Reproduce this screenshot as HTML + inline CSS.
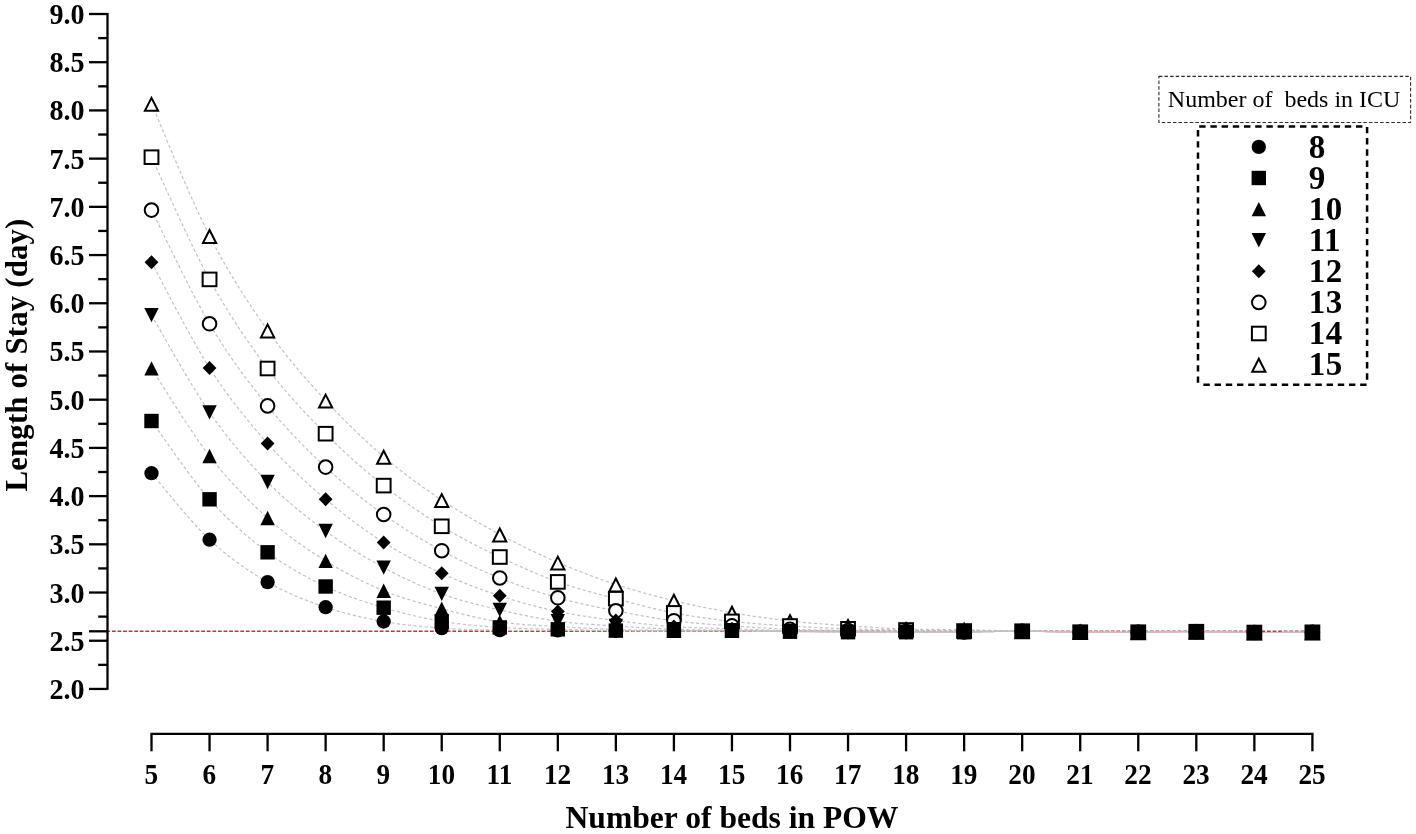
<!DOCTYPE html>
<html><head><meta charset="utf-8"><style>
html,body{margin:0;padding:0;background:#fff;width:1416px;height:834px;overflow:hidden}
svg{display:block;will-change:transform}
text{font-family:"Liberation Serif",serif}
.b{font-weight:bold}
.o{fill:#fff;stroke:#000;stroke-width:2.0}
</style></head><body>
<svg width="1416" height="834" viewBox="0 0 1416 834">
<rect width="1416" height="834" fill="#fff"/>

<line x1="106.4" y1="631.25" x2="1312.5" y2="631.25" stroke="#dd2a2a" stroke-width="1.6" stroke-dasharray="3.7 1.88"/>
<g fill="none" stroke="#c2c2c2" stroke-width="1.2" stroke-dasharray="3.2 2.4">
<path d="M151.5 473.2C161.17 484.28 190.2 521.55 209.55 539.7C228.89 557.85 248.24 570.85 267.59 582.1C286.94 593.35 306.29 600.63 325.63 607.2C344.98 613.77 364.33 618.02 383.68 621.5C403.03 624.98 422.38 626.67 441.73 628.1C461.07 629.53 480.42 629.72 499.77 630.1C519.12 630.48 538.47 630.28 557.82 630.4C577.16 630.52 596.51 630.72 615.86 630.8C635.21 630.88 654.56 630.9 673.9 630.9C693.25 630.9 712.6 630.7 731.95 630.8C751.3 630.9 770.65 631.3 790 631.5C809.34 631.7 828.69 631.92 848.04 632C867.39 632.08 886.74 632 906.09 632C925.43 632 944.78 632.13 964.13 632C983.48 631.87 1002.83 631.17 1022.18 631.2C1041.52 631.23 1060.87 632.03 1080.22 632.2C1099.57 632.37 1118.92 632.28 1138.26 632.2C1157.61 632.12 1176.96 631.65 1196.31 631.7C1215.66 631.75 1235.01 632.4 1254.36 632.5C1273.7 632.6 1302.73 632.33 1312.4 632.3"/>
<path d="M151.5 421C161.17 434.05 190.2 477.42 209.55 499.3C228.89 521.18 248.24 537.77 267.59 552.3C286.94 566.83 306.29 577.27 325.63 586.5C344.98 595.73 364.33 601.9 383.68 607.7C403.03 613.5 422.38 618.02 441.73 621.3C461.07 624.58 480.42 626.07 499.77 627.4C519.12 628.73 538.47 628.77 557.82 629.3C577.16 629.83 596.51 630.35 615.86 630.6C635.21 630.85 654.56 630.77 673.9 630.8C693.25 630.83 712.6 630.68 731.95 630.8C751.3 630.92 770.65 631.3 790 631.5C809.34 631.7 828.69 631.92 848.04 632C867.39 632.08 886.74 632 906.09 632C925.43 632 944.78 632.13 964.13 632C983.48 631.87 1002.83 631.17 1022.18 631.2C1041.52 631.23 1060.87 632.03 1080.22 632.2C1099.57 632.37 1118.92 632.28 1138.26 632.2C1157.61 632.12 1176.96 631.65 1196.31 631.7C1215.66 631.75 1235.01 632.4 1254.36 632.5C1273.7 632.6 1302.73 632.33 1312.4 632.3"/>
<path d="M151.5 368.4C161.17 383 190.2 431.07 209.55 456C228.89 480.93 248.24 500.52 267.59 518C286.94 535.48 306.29 548.78 325.63 560.9C344.98 573.02 364.33 582.73 383.68 590.7C403.03 598.67 422.38 603.5 441.73 608.7C461.07 613.9 480.42 618.93 499.77 621.9C519.12 624.87 538.47 625.23 557.82 626.5C577.16 627.77 596.51 628.83 615.86 629.5C635.21 630.17 654.56 630.3 673.9 630.5C693.25 630.7 712.6 630.53 731.95 630.7C751.3 630.87 770.65 631.28 790 631.5C809.34 631.72 828.69 631.92 848.04 632C867.39 632.08 886.74 632 906.09 632C925.43 632 944.78 632.13 964.13 632C983.48 631.87 1002.83 631.17 1022.18 631.2C1041.52 631.23 1060.87 632.03 1080.22 632.2C1099.57 632.37 1118.92 632.28 1138.26 632.2C1157.61 632.12 1176.96 631.65 1196.31 631.7C1215.66 631.75 1235.01 632.4 1254.36 632.5C1273.7 632.6 1302.73 632.33 1312.4 632.3"/>
<path d="M151.5 315.1C161.17 331.32 190.2 384.58 209.55 412.4C228.89 440.22 248.24 462.23 267.59 482C286.94 501.77 306.29 516.73 325.63 531C344.98 545.27 364.33 557.12 383.68 567.6C403.03 578.08 422.38 586.85 441.73 593.9C461.07 600.95 480.42 605.35 499.77 609.9C519.12 614.45 538.47 618.52 557.82 621.2C577.16 623.88 596.51 624.65 615.86 626C635.21 627.35 654.56 628.58 673.9 629.3C693.25 630.02 712.6 629.97 731.95 630.3C751.3 630.63 770.65 631.02 790 631.3C809.34 631.58 828.69 631.88 848.04 632C867.39 632.12 886.74 632 906.09 632C925.43 632 944.78 632.13 964.13 632C983.48 631.87 1002.83 631.17 1022.18 631.2C1041.52 631.23 1060.87 632.03 1080.22 632.2C1099.57 632.37 1118.92 632.28 1138.26 632.2C1157.61 632.12 1176.96 631.65 1196.31 631.7C1215.66 631.75 1235.01 632.4 1254.36 632.5C1273.7 632.6 1302.73 632.33 1312.4 632.3"/>
<path d="M151.5 262.2C161.17 279.83 190.2 337.8 209.55 368C228.89 398.2 248.24 421.53 267.59 443.4C286.94 465.27 306.29 482.7 325.63 499.2C344.98 515.7 364.33 530.05 383.68 542.4C403.03 554.75 422.38 564.4 441.73 573.3C461.07 582.2 480.42 589.43 499.77 595.8C519.12 602.17 538.47 607.38 557.82 611.5C577.16 615.62 596.51 617.98 615.86 620.5C635.21 623.02 654.56 625.22 673.9 626.6C693.25 627.98 712.6 628.1 731.95 628.8C751.3 629.5 770.65 630.35 790 630.8C809.34 631.25 828.69 631.3 848.04 631.5C867.39 631.7 886.74 631.92 906.09 632C925.43 632.08 944.78 632.13 964.13 632C983.48 631.87 1002.83 631.17 1022.18 631.2C1041.52 631.23 1060.87 632.03 1080.22 632.2C1099.57 632.37 1118.92 632.28 1138.26 632.2C1157.61 632.12 1176.96 631.65 1196.31 631.7C1215.66 631.75 1235.01 632.4 1254.36 632.5C1273.7 632.6 1302.73 632.33 1312.4 632.3"/>
<path d="M151.5 210.1C161.17 229.05 190.2 291.17 209.55 323.8C228.89 356.43 248.24 382.02 267.59 405.9C286.94 429.78 306.29 449 325.63 467.1C344.98 485.2 364.33 500.57 383.68 514.5C403.03 528.43 422.38 540.12 441.73 550.7C461.07 561.28 480.42 570.15 499.77 578C519.12 585.85 538.47 592.33 557.82 597.8C577.16 603.27 596.51 606.98 615.86 610.8C635.21 614.62 654.56 618.18 673.9 620.7C693.25 623.22 712.6 624.47 731.95 625.9C751.3 627.33 770.65 628.53 790 629.3C809.34 630.07 828.69 630.13 848.04 630.5C867.39 630.87 886.74 631.25 906.09 631.5C925.43 631.75 944.78 632.05 964.13 632C983.48 631.95 1002.83 631.17 1022.18 631.2C1041.52 631.23 1060.87 632.03 1080.22 632.2C1099.57 632.37 1118.92 632.28 1138.26 632.2C1157.61 632.12 1176.96 631.65 1196.31 631.7C1215.66 631.75 1235.01 632.4 1254.36 632.5C1273.7 632.6 1302.73 632.33 1312.4 632.3"/>
<path d="M151.5 157.2C161.17 177.57 190.2 244.18 209.55 279.4C228.89 314.62 248.24 342.78 267.59 368.5C286.94 394.22 306.29 414.18 325.63 433.7C344.98 453.22 364.33 470.17 383.68 485.6C403.03 501.03 422.38 514.4 441.73 526.3C461.07 538.2 480.42 547.73 499.77 557C519.12 566.27 538.47 574.95 557.82 581.9C577.16 588.85 596.51 593.53 615.86 598.7C635.21 603.87 654.56 609.12 673.9 612.9C693.25 616.68 712.6 619.22 731.95 621.4C751.3 623.58 770.65 624.77 790 626C809.34 627.23 828.69 628.13 848.04 628.8C867.39 629.47 886.74 629.63 906.09 630C925.43 630.37 944.78 630.8 964.13 631C983.48 631.2 1002.83 631 1022.18 631.2C1041.52 631.4 1060.87 632.03 1080.22 632.2C1099.57 632.37 1118.92 632.28 1138.26 632.2C1157.61 632.12 1176.96 631.65 1196.31 631.7C1215.66 631.75 1235.01 632.4 1254.36 632.5C1273.7 632.6 1302.73 632.33 1312.4 632.3"/>
<path d="M151.5 103.75C161.17 125.78 190.2 198.14 209.55 235.9C228.89 273.66 248.24 302.87 267.59 330.3C286.94 357.73 306.29 379.43 325.63 400.5C344.98 421.57 364.33 440.12 383.68 456.7C403.03 473.28 422.38 487.05 441.73 500C461.07 512.95 480.42 523.98 499.77 534.4C519.12 544.82 538.47 554.17 557.82 562.5C577.16 570.83 596.51 578.03 615.86 584.4C635.21 590.77 654.56 595.98 673.9 600.7C693.25 605.42 712.6 609.32 731.95 612.7C751.3 616.08 770.65 618.82 790 621C809.34 623.18 828.69 624.47 848.04 625.8C867.39 627.13 886.74 628.35 906.09 629C925.43 629.65 944.78 629.33 964.13 629.7C983.48 630.07 1002.83 630.9 1022.18 631.2C1041.52 631.5 1060.87 631.33 1080.22 631.5C1099.57 631.67 1118.92 632.17 1138.26 632.2C1157.61 632.23 1176.96 631.65 1196.31 631.7C1215.66 631.75 1235.01 632.4 1254.36 632.5C1273.7 632.6 1302.73 632.33 1312.4 632.3"/>
</g>
<g stroke="#000" stroke-width="2.3" fill="none">
<line x1="107.5" y1="12.9" x2="107.5" y2="689.8"/>
<line x1="89" y1="14" x2="107.5" y2="14"/>
<line x1="89" y1="62.21" x2="107.5" y2="62.21"/>
<line x1="89" y1="110.42" x2="107.5" y2="110.42"/>
<line x1="89" y1="158.63" x2="107.5" y2="158.63"/>
<line x1="89" y1="206.84" x2="107.5" y2="206.84"/>
<line x1="89" y1="255.05" x2="107.5" y2="255.05"/>
<line x1="89" y1="303.26" x2="107.5" y2="303.26"/>
<line x1="89" y1="351.48" x2="107.5" y2="351.48"/>
<line x1="89" y1="399.69" x2="107.5" y2="399.69"/>
<line x1="89" y1="447.9" x2="107.5" y2="447.9"/>
<line x1="89" y1="496.11" x2="107.5" y2="496.11"/>
<line x1="89" y1="544.32" x2="107.5" y2="544.32"/>
<line x1="89" y1="592.53" x2="107.5" y2="592.53"/>
<line x1="89" y1="640.74" x2="107.5" y2="640.74"/>
<line x1="89" y1="688.95" x2="107.5" y2="688.95"/>
<line x1="98.2" y1="38.11" x2="107.5" y2="38.11"/>
<line x1="98.2" y1="86.32" x2="107.5" y2="86.32"/>
<line x1="98.2" y1="134.53" x2="107.5" y2="134.53"/>
<line x1="98.2" y1="182.74" x2="107.5" y2="182.74"/>
<line x1="98.2" y1="230.95" x2="107.5" y2="230.95"/>
<line x1="98.2" y1="279.16" x2="107.5" y2="279.16"/>
<line x1="98.2" y1="327.37" x2="107.5" y2="327.37"/>
<line x1="98.2" y1="375.58" x2="107.5" y2="375.58"/>
<line x1="98.2" y1="423.79" x2="107.5" y2="423.79"/>
<line x1="98.2" y1="472" x2="107.5" y2="472"/>
<line x1="98.2" y1="520.21" x2="107.5" y2="520.21"/>
<line x1="98.2" y1="568.42" x2="107.5" y2="568.42"/>
<line x1="98.2" y1="616.63" x2="107.5" y2="616.63"/>
<line x1="98.2" y1="664.84" x2="107.5" y2="664.84"/>
<line x1="89" y1="631.3" x2="107.5" y2="631.3"/>
<line x1="150.4" y1="733.8" x2="1313.5" y2="733.8"/>
<line x1="151.5" y1="733.8" x2="151.5" y2="751.3"/>
<line x1="209.55" y1="733.8" x2="209.55" y2="751.3"/>
<line x1="267.59" y1="733.8" x2="267.59" y2="751.3"/>
<line x1="325.63" y1="733.8" x2="325.63" y2="751.3"/>
<line x1="383.68" y1="733.8" x2="383.68" y2="751.3"/>
<line x1="441.73" y1="733.8" x2="441.73" y2="751.3"/>
<line x1="499.77" y1="733.8" x2="499.77" y2="751.3"/>
<line x1="557.82" y1="733.8" x2="557.82" y2="751.3"/>
<line x1="615.86" y1="733.8" x2="615.86" y2="751.3"/>
<line x1="673.9" y1="733.8" x2="673.9" y2="751.3"/>
<line x1="731.95" y1="733.8" x2="731.95" y2="751.3"/>
<line x1="790" y1="733.8" x2="790" y2="751.3"/>
<line x1="848.04" y1="733.8" x2="848.04" y2="751.3"/>
<line x1="906.09" y1="733.8" x2="906.09" y2="751.3"/>
<line x1="964.13" y1="733.8" x2="964.13" y2="751.3"/>
<line x1="1022.18" y1="733.8" x2="1022.18" y2="751.3"/>
<line x1="1080.22" y1="733.8" x2="1080.22" y2="751.3"/>
<line x1="1138.26" y1="733.8" x2="1138.26" y2="751.3"/>
<line x1="1196.31" y1="733.8" x2="1196.31" y2="751.3"/>
<line x1="1254.36" y1="733.8" x2="1254.36" y2="751.3"/>
<line x1="1312.4" y1="733.8" x2="1312.4" y2="751.3"/>
</g>
<g class="b" font-size="29" text-anchor="end" fill="#000">
<text transform="translate(84.6 24) scale(0.968 1)">9.0</text>
<text transform="translate(84.6 72.21) scale(0.968 1)">8.5</text>
<text transform="translate(84.6 120.42) scale(0.968 1)">8.0</text>
<text transform="translate(84.6 168.63) scale(0.968 1)">7.5</text>
<text transform="translate(84.6 216.84) scale(0.968 1)">7.0</text>
<text transform="translate(84.6 265.05) scale(0.968 1)">6.5</text>
<text transform="translate(84.6 313.26) scale(0.968 1)">6.0</text>
<text transform="translate(84.6 361.48) scale(0.968 1)">5.5</text>
<text transform="translate(84.6 409.69) scale(0.968 1)">5.0</text>
<text transform="translate(84.6 457.9) scale(0.968 1)">4.5</text>
<text transform="translate(84.6 506.11) scale(0.968 1)">4.0</text>
<text transform="translate(84.6 554.32) scale(0.968 1)">3.5</text>
<text transform="translate(84.6 602.53) scale(0.968 1)">3.0</text>
<text transform="translate(84.6 650.74) scale(0.968 1)">2.5</text>
<text transform="translate(84.6 698.95) scale(0.968 1)">2.0</text>
</g>
<g class="b" font-size="29" text-anchor="middle" fill="#000">
<text transform="translate(151.2 783.8) scale(0.94 1)">5</text>
<text transform="translate(209.25 783.8) scale(0.94 1)">6</text>
<text transform="translate(267.29 783.8) scale(0.94 1)">7</text>
<text transform="translate(325.33 783.8) scale(0.94 1)">8</text>
<text transform="translate(383.38 783.8) scale(0.94 1)">9</text>
<text transform="translate(441.43 783.8) scale(0.94 1)">10</text>
<text transform="translate(499.47 783.8) scale(0.94 1)">11</text>
<text transform="translate(557.52 783.8) scale(0.94 1)">12</text>
<text transform="translate(615.56 783.8) scale(0.94 1)">13</text>
<text transform="translate(673.61 783.8) scale(0.94 1)">14</text>
<text transform="translate(731.65 783.8) scale(0.94 1)">15</text>
<text transform="translate(789.7 783.8) scale(0.94 1)">16</text>
<text transform="translate(847.74 783.8) scale(0.94 1)">17</text>
<text transform="translate(905.79 783.8) scale(0.94 1)">18</text>
<text transform="translate(963.83 783.8) scale(0.94 1)">19</text>
<text transform="translate(1021.88 783.8) scale(0.94 1)">20</text>
<text transform="translate(1079.92 783.8) scale(0.94 1)">21</text>
<text transform="translate(1137.96 783.8) scale(0.94 1)">22</text>
<text transform="translate(1196.01 783.8) scale(0.94 1)">23</text>
<text transform="translate(1254.06 783.8) scale(0.94 1)">24</text>
<text transform="translate(1312.1 783.8) scale(0.94 1)">25</text>
</g>
<text class="b" x="732" y="827.9" font-size="31.6" text-anchor="middle">Number of beds in POW</text>
<text class="b" transform="translate(27.0 355.0) rotate(-90)" font-size="30.8" letter-spacing="0.18" text-anchor="middle">Length of Stay (day)</text>
<rect x="1158.9" y="76.35" width="251.7" height="46.15" fill="none" stroke="#2a2a2a" stroke-width="1.1" stroke-dasharray="3.5 2.1"/>
<text x="1167.8" y="107" font-size="24" xml:space="preserve">Number of  beds in ICU</text>
<g stroke="#000" stroke-width="2.5" stroke-dasharray="6.4 4.8" fill="none">
<line x1="1199.2" y1="126.4" x2="1364" y2="126.4"/>
<line x1="1367.1" y1="126.9" x2="1367.1" y2="381"/>
<line x1="1203.4" y1="384.85" x2="1368.2" y2="384.85"/>
<line x1="1198" y1="130" x2="1198" y2="384"/>
</g>
<g><circle cx="1258.8" cy="146.9" r="7.15"/></g>
<text class="b" x="1308.8" y="157.5" font-size="33" letter-spacing="0.5">8</text>
<g><rect x="1251.6" y="170.8" width="14.4" height="14.4"/></g>
<text class="b" x="1308.8" y="188.6" font-size="33" letter-spacing="0.5">9</text>
<g><path d="M1258.8 201.9l7.2 14.4h-14.4z"/></g>
<text class="b" x="1308.8" y="219.7" font-size="33" letter-spacing="0.5">10</text>
<g><path d="M1258.8 247.4l7.2 -14.4h-14.4z"/></g>
<text class="b" x="1308.8" y="250.8" font-size="33" letter-spacing="0.5">11</text>
<g><path d="M1258.8 264.3l6.9 7l-6.9 7l-6.9 -7z"/></g>
<text class="b" x="1308.8" y="281.9" font-size="33" letter-spacing="0.5">12</text>
<g><circle class="o" cx="1258.8" cy="302.4" r="6.8"/></g>
<text class="b" x="1308.8" y="313" font-size="33" letter-spacing="0.5">13</text>
<g><rect class="o" x="1251.9" y="326.7" width="13.8" height="13.6"/></g>
<text class="b" x="1308.8" y="344.1" font-size="33" letter-spacing="0.5">14</text>
<g><path class="o" d="M1258.8 358.7l6.6 13h-13.2z"/></g>
<text class="b" x="1308.8" y="375.2" font-size="33" letter-spacing="0.5">15</text>
<g fill="#000">
<path class="o" d="M151.5 97.85l6.6 13h-13.2z"/>
<path class="o" d="M209.55 230l6.6 13h-13.2z"/>
<path class="o" d="M267.59 324.4l6.6 13h-13.2z"/>
<path class="o" d="M325.63 394.6l6.6 13h-13.2z"/>
<path class="o" d="M383.68 450.8l6.6 13h-13.2z"/>
<path class="o" d="M441.73 494.1l6.6 13h-13.2z"/>
<path class="o" d="M499.77 528.5l6.6 13h-13.2z"/>
<path class="o" d="M557.82 556.6l6.6 13h-13.2z"/>
<path class="o" d="M615.86 578.5l6.6 13h-13.2z"/>
<path class="o" d="M673.9 594.8l6.6 13h-13.2z"/>
<path class="o" d="M731.95 606.8l6.6 13h-13.2z"/>
<path class="o" d="M790 615.1l6.6 13h-13.2z"/>
<path class="o" d="M848.04 619.9l6.6 13h-13.2z"/>
<path class="o" d="M906.09 623.1l6.6 13h-13.2z"/>
<path class="o" d="M964.13 623.8l6.6 13h-13.2z"/>
<path class="o" d="M1022.18 625.3l6.6 13h-13.2z"/>
<path class="o" d="M1080.22 625.6l6.6 13h-13.2z"/>
<path class="o" d="M1138.26 626.3l6.6 13h-13.2z"/>
<path class="o" d="M1196.31 625.8l6.6 13h-13.2z"/>
<path class="o" d="M1254.36 626.6l6.6 13h-13.2z"/>
<path class="o" d="M1312.4 626.4l6.6 13h-13.2z"/>
<rect class="o" x="144.6" y="150.4" width="13.8" height="13.6"/>
<rect class="o" x="202.65" y="272.6" width="13.8" height="13.6"/>
<rect class="o" x="260.69" y="361.7" width="13.8" height="13.6"/>
<rect class="o" x="318.74" y="426.9" width="13.8" height="13.6"/>
<rect class="o" x="376.78" y="478.8" width="13.8" height="13.6"/>
<rect class="o" x="434.83" y="519.5" width="13.8" height="13.6"/>
<rect class="o" x="492.87" y="550.2" width="13.8" height="13.6"/>
<rect class="o" x="550.92" y="575.1" width="13.8" height="13.6"/>
<rect class="o" x="608.96" y="591.9" width="13.8" height="13.6"/>
<rect class="o" x="667" y="606.1" width="13.8" height="13.6"/>
<rect class="o" x="725.05" y="614.6" width="13.8" height="13.6"/>
<rect class="o" x="783.1" y="619.2" width="13.8" height="13.6"/>
<rect class="o" x="841.14" y="622" width="13.8" height="13.6"/>
<rect class="o" x="899.19" y="623.2" width="13.8" height="13.6"/>
<rect class="o" x="957.23" y="624.2" width="13.8" height="13.6"/>
<rect class="o" x="1015.28" y="624.4" width="13.8" height="13.6"/>
<rect class="o" x="1073.32" y="625.4" width="13.8" height="13.6"/>
<rect class="o" x="1131.36" y="625.4" width="13.8" height="13.6"/>
<rect class="o" x="1189.41" y="624.9" width="13.8" height="13.6"/>
<rect class="o" x="1247.45" y="625.7" width="13.8" height="13.6"/>
<rect class="o" x="1305.5" y="625.5" width="13.8" height="13.6"/>
<circle class="o" cx="151.5" cy="210.1" r="6.8"/>
<circle class="o" cx="209.55" cy="323.8" r="6.8"/>
<circle class="o" cx="267.59" cy="405.9" r="6.8"/>
<circle class="o" cx="325.63" cy="467.1" r="6.8"/>
<circle class="o" cx="383.68" cy="514.5" r="6.8"/>
<circle class="o" cx="441.73" cy="550.7" r="6.8"/>
<circle class="o" cx="499.77" cy="578" r="6.8"/>
<circle class="o" cx="557.82" cy="597.8" r="6.8"/>
<circle class="o" cx="615.86" cy="610.8" r="6.8"/>
<circle class="o" cx="673.9" cy="620.7" r="6.8"/>
<circle class="o" cx="731.95" cy="625.9" r="6.8"/>
<circle class="o" cx="790" cy="629.3" r="6.8"/>
<circle class="o" cx="848.04" cy="630.5" r="6.8"/>
<circle class="o" cx="906.09" cy="631.5" r="6.8"/>
<circle class="o" cx="964.13" cy="632" r="6.8"/>
<circle class="o" cx="1022.18" cy="631.2" r="6.8"/>
<circle class="o" cx="1080.22" cy="632.2" r="6.8"/>
<circle class="o" cx="1138.26" cy="632.2" r="6.8"/>
<circle class="o" cx="1196.31" cy="631.7" r="6.8"/>
<circle class="o" cx="1254.36" cy="632.5" r="6.8"/>
<circle class="o" cx="1312.4" cy="632.3" r="6.8"/>
<path d="M151.5 255.2l6.9 7l-6.9 7l-6.9 -7z"/>
<path d="M209.55 361l6.9 7l-6.9 7l-6.9 -7z"/>
<path d="M267.59 436.4l6.9 7l-6.9 7l-6.9 -7z"/>
<path d="M325.63 492.2l6.9 7l-6.9 7l-6.9 -7z"/>
<path d="M383.68 535.4l6.9 7l-6.9 7l-6.9 -7z"/>
<path d="M441.73 566.3l6.9 7l-6.9 7l-6.9 -7z"/>
<path d="M499.77 588.8l6.9 7l-6.9 7l-6.9 -7z"/>
<path d="M557.82 604.5l6.9 7l-6.9 7l-6.9 -7z"/>
<path d="M615.86 613.5l6.9 7l-6.9 7l-6.9 -7z"/>
<path d="M673.9 619.6l6.9 7l-6.9 7l-6.9 -7z"/>
<path d="M731.95 621.8l6.9 7l-6.9 7l-6.9 -7z"/>
<path d="M790 623.8l6.9 7l-6.9 7l-6.9 -7z"/>
<path d="M848.04 624.5l6.9 7l-6.9 7l-6.9 -7z"/>
<path d="M906.09 625l6.9 7l-6.9 7l-6.9 -7z"/>
<path d="M964.13 625l6.9 7l-6.9 7l-6.9 -7z"/>
<path d="M1022.18 624.2l6.9 7l-6.9 7l-6.9 -7z"/>
<path d="M1080.22 625.2l6.9 7l-6.9 7l-6.9 -7z"/>
<path d="M1138.26 625.2l6.9 7l-6.9 7l-6.9 -7z"/>
<path d="M1196.31 624.7l6.9 7l-6.9 7l-6.9 -7z"/>
<path d="M1254.36 625.5l6.9 7l-6.9 7l-6.9 -7z"/>
<path d="M1312.4 625.3l6.9 7l-6.9 7l-6.9 -7z"/>
<path d="M151.5 322.3l7.2 -14.4h-14.4z"/>
<path d="M209.55 419.6l7.2 -14.4h-14.4z"/>
<path d="M267.59 489.2l7.2 -14.4h-14.4z"/>
<path d="M325.63 538.2l7.2 -14.4h-14.4z"/>
<path d="M383.68 574.8l7.2 -14.4h-14.4z"/>
<path d="M441.73 601.1l7.2 -14.4h-14.4z"/>
<path d="M499.77 617.1l7.2 -14.4h-14.4z"/>
<path d="M557.82 628.4l7.2 -14.4h-14.4z"/>
<path d="M615.86 633.2l7.2 -14.4h-14.4z"/>
<path d="M673.9 636.5l7.2 -14.4h-14.4z"/>
<path d="M731.95 637.5l7.2 -14.4h-14.4z"/>
<path d="M790 638.5l7.2 -14.4h-14.4z"/>
<path d="M848.04 639.2l7.2 -14.4h-14.4z"/>
<path d="M906.09 639.2l7.2 -14.4h-14.4z"/>
<path d="M964.13 639.2l7.2 -14.4h-14.4z"/>
<path d="M1022.18 638.4l7.2 -14.4h-14.4z"/>
<path d="M1080.22 639.4l7.2 -14.4h-14.4z"/>
<path d="M1138.26 639.4l7.2 -14.4h-14.4z"/>
<path d="M1196.31 638.9l7.2 -14.4h-14.4z"/>
<path d="M1254.36 639.7l7.2 -14.4h-14.4z"/>
<path d="M1312.4 639.5l7.2 -14.4h-14.4z"/>
<path d="M151.5 361.2l7.2 14.4h-14.4z"/>
<path d="M209.55 448.8l7.2 14.4h-14.4z"/>
<path d="M267.59 510.8l7.2 14.4h-14.4z"/>
<path d="M325.63 553.7l7.2 14.4h-14.4z"/>
<path d="M383.68 583.5l7.2 14.4h-14.4z"/>
<path d="M441.73 601.5l7.2 14.4h-14.4z"/>
<path d="M499.77 614.7l7.2 14.4h-14.4z"/>
<path d="M557.82 619.3l7.2 14.4h-14.4z"/>
<path d="M615.86 622.3l7.2 14.4h-14.4z"/>
<path d="M673.9 623.3l7.2 14.4h-14.4z"/>
<path d="M731.95 623.5l7.2 14.4h-14.4z"/>
<path d="M790 624.3l7.2 14.4h-14.4z"/>
<path d="M848.04 624.8l7.2 14.4h-14.4z"/>
<path d="M906.09 624.8l7.2 14.4h-14.4z"/>
<path d="M964.13 624.8l7.2 14.4h-14.4z"/>
<path d="M1022.18 624l7.2 14.4h-14.4z"/>
<path d="M1080.22 625l7.2 14.4h-14.4z"/>
<path d="M1138.26 625l7.2 14.4h-14.4z"/>
<path d="M1196.31 624.5l7.2 14.4h-14.4z"/>
<path d="M1254.36 625.3l7.2 14.4h-14.4z"/>
<path d="M1312.4 625.1l7.2 14.4h-14.4z"/>
<rect x="144.3" y="413.8" width="14.4" height="14.4"/>
<rect x="202.35" y="492.1" width="14.4" height="14.4"/>
<rect x="260.39" y="545.1" width="14.4" height="14.4"/>
<rect x="318.44" y="579.3" width="14.4" height="14.4"/>
<rect x="376.48" y="600.5" width="14.4" height="14.4"/>
<rect x="434.53" y="614.1" width="14.4" height="14.4"/>
<rect x="492.57" y="620.2" width="14.4" height="14.4"/>
<rect x="550.62" y="622.1" width="14.4" height="14.4"/>
<rect x="608.66" y="623.4" width="14.4" height="14.4"/>
<rect x="666.7" y="623.6" width="14.4" height="14.4"/>
<rect x="724.75" y="623.6" width="14.4" height="14.4"/>
<rect x="782.79" y="624.3" width="14.4" height="14.4"/>
<rect x="840.84" y="624.8" width="14.4" height="14.4"/>
<rect x="898.88" y="624.8" width="14.4" height="14.4"/>
<rect x="956.93" y="624.8" width="14.4" height="14.4"/>
<rect x="1014.98" y="624" width="14.4" height="14.4"/>
<rect x="1073.02" y="625" width="14.4" height="14.4"/>
<rect x="1131.06" y="625" width="14.4" height="14.4"/>
<rect x="1189.11" y="624.5" width="14.4" height="14.4"/>
<rect x="1247.15" y="625.3" width="14.4" height="14.4"/>
<rect x="1305.2" y="625.1" width="14.4" height="14.4"/>
<circle cx="151.5" cy="473.2" r="7.15"/>
<circle cx="209.55" cy="539.7" r="7.15"/>
<circle cx="267.59" cy="582.1" r="7.15"/>
<circle cx="325.63" cy="607.2" r="7.15"/>
<circle cx="383.68" cy="621.5" r="7.15"/>
<circle cx="441.73" cy="628.1" r="7.15"/>
<circle cx="499.77" cy="630.1" r="7.15"/>
<circle cx="557.82" cy="630.4" r="7.15"/>
<circle cx="615.86" cy="630.8" r="7.15"/>
<circle cx="673.9" cy="630.9" r="7.15"/>
<circle cx="731.95" cy="630.8" r="7.15"/>
<circle cx="790" cy="631.5" r="7.15"/>
<circle cx="848.04" cy="632" r="7.15"/>
<circle cx="906.09" cy="632" r="7.15"/>
<circle cx="964.13" cy="632" r="7.15"/>
<circle cx="1022.18" cy="631.2" r="7.15"/>
<circle cx="1080.22" cy="632.2" r="7.15"/>
<circle cx="1138.26" cy="632.2" r="7.15"/>
<circle cx="1196.31" cy="631.7" r="7.15"/>
<circle cx="1254.36" cy="632.5" r="7.15"/>
<circle cx="1312.4" cy="632.3" r="7.15"/>
</g>
</svg></body></html>
